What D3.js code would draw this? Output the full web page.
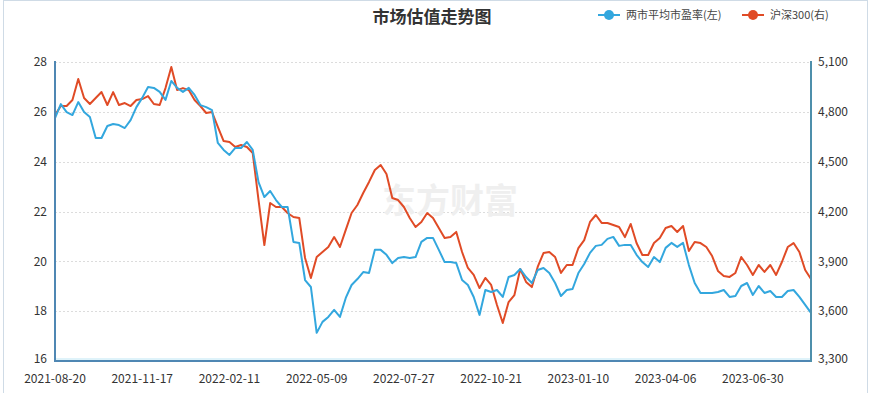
<!DOCTYPE html>
<html>
<head>
<meta charset="utf-8">
<script src="https://cdn.jsdelivr.net/npm/d3@7"></script>
<style>
  body { margin: 0; background: #fff; }
  svg { display: block; font-family: "Noto Sans CJK SC", "Noto Sans", sans-serif; }
</style>
</head>
<body>
<div id="chart"></div>
<script>
// tick labels on the category axis (one every 15 samples)
const tickLabels = ["2021-08-20","2021-11-17","2022-02-11","2022-05-09","2022-07-27",
                    "2022-10-21","2023-01-10","2023-04-06","2023-06-30"];
const tickStep = 15;

// 两市平均市盈率 (left axis)
const peValues = [
  25.75,26.31,25.99,25.87,26.39,25.99,25.79,24.95,24.95,25.43,
  25.51,25.47,25.35,25.67,26.19,26.56,27.00,26.96,26.80,26.48,
  27.24,26.96,26.80,26.96,26.68,26.27,26.19,26.07,24.75,24.47,
  24.27,24.55,24.55,24.79,24.47,23.18,22.58,22.82,22.46,22.18,
  22.18,20.78,20.74,19.25,18.97,17.13,17.57,17.77,18.05,17.77,
  18.53,19.05,19.29,19.57,19.53,20.46,20.46,20.26,19.93,20.13,
  20.17,20.13,20.17,20.78,20.94,20.94,20.46,19.97,19.97,19.93,
  19.25,19.05,18.57,17.85,18.85,18.77,18.85,18.57,19.37,19.45,
  19.69,19.37,19.13,19.65,19.73,19.53,19.13,18.61,18.85,18.89,
  19.53,19.89,20.34,20.62,20.66,20.90,20.98,20.62,20.66,20.66,
  20.26,19.97,19.77,20.17,19.97,20.54,20.74,20.58,20.74,19.85,
  19.13,18.73,18.73,18.73,18.77,18.85,18.57,18.61,19.01,19.13,
  18.65,19.01,18.73,18.81,18.57,18.57,18.81,18.85,18.57,18.25,
  17.93
];

// 沪深300 (right axis)
const hs300Values = [
  4781,4835,4835,4871,4998,4883,4847,4883,4919,4841,
  4919,4841,4853,4835,4871,4877,4895,4847,4841,4943,
  5070,4931,4943,4931,4871,4835,4793,4799,4709,4624,
  4618,4588,4600,4588,4552,4269,3998,4251,4227,4227,
  4191,4167,4161,3920,3800,3926,3956,3986,4046,3986,
  4089,4191,4239,4311,4378,4450,4480,4426,4281,4269,
  4227,4161,4107,4137,4191,4161,4101,4040,4046,4077,
  3956,3860,3818,3739,3800,3758,3637,3529,3655,3697,
  3854,3776,3745,3866,3950,3956,3926,3830,3878,3878,
  3980,4028,4137,4179,4131,4131,4119,4107,4046,4125,
  4010,3938,3938,4010,4040,4101,4113,4077,4113,3962,
  4016,4010,3986,3932,3842,3812,3806,3830,3926,3878,
  3818,3878,3836,3878,3818,3896,3986,4010,3956,3848,
  3794
];

const leftTicks = [16, 18, 20, 22, 24, 26, 28];
const rightTicks = [3300, 3600, 3900, 4200, 4500, 4800, 5100];

const seriesNames = ["两市平均市盈率(左)", "沪深300(右)"];
const colors = ["#33a7de", "#e04b26"];

const width = 871, height = 393;
const margin = { top: 62, right: 60, bottom: 32, left: 55 };
const x0 = margin.left, x1 = width - margin.right;
const y0 = height - margin.bottom, y1 = margin.top;

const svg = d3.select("#chart").append("svg")
  .attr("width", width).attr("height", height);

// outer frame
svg.append("rect")
  .attr("x", 3.5).attr("y", 0.5).attr("width", 864).attr("height", 400)
  .attr("fill", "none").attr("stroke", "#cfdbe6");

const x = d3.scaleLinear().domain([0, peValues.length - 1]).range([x0, x1]);
const yL = d3.scaleLinear().domain([16, 28]).range([y0, y1]);
const yR = d3.scaleLinear().domain([3300, 5100]).range([y0, y1]);

// grid
svg.append("g").selectAll("line").data(leftTicks.slice(1)).join("line")
  .attr("x1", x0).attr("x2", x1)
  .attr("y1", d => Math.round(yL(d)) + 0.5).attr("y2", d => Math.round(yL(d)) + 0.5)
  .attr("stroke", "#dcdcdc").attr("stroke-dasharray", "2,2");

// watermark
svg.append("text")
  .attr("x", 450).attr("y", 213).attr("text-anchor", "middle")
  .style("font-size", "34px").style("font-weight", "bold")
  .attr("fill", "#efefef").text("东方财富");

// lines
const lineL = d3.line().x((d, i) => x(i)).y(d => yL(d));
const lineR = d3.line().x((d, i) => x(i)).y(d => yR(d));

svg.append("path").datum(hs300Values).attr("d", lineR)
  .attr("fill", "none").attr("stroke", colors[1]).attr("stroke-width", 2)
  .attr("stroke-linejoin", "round");
svg.append("path").datum(peValues).attr("d", lineL)
  .attr("fill", "none").attr("stroke", colors[0]).attr("stroke-width", 2)
  .attr("stroke-linejoin", "round");

// axes
const axisColor = "#4f87b3";
svg.append("line").attr("x1", x0 + 1).attr("x2", x1).attr("y1", y0 - 2).attr("y2", y0 - 2)
  .attr("stroke", "#dff3fa").attr("stroke-width", 2);
svg.append("line").attr("x1", x0).attr("x2", x1 + 1).attr("y1", y0).attr("y2", y0)
  .attr("stroke", axisColor).attr("stroke-width", 2);
svg.append("line").attr("x1", x0).attr("x2", x0).attr("y1", y1 - 1).attr("y2", y0 + 1)
  .attr("stroke", axisColor).attr("stroke-width", 2);
svg.append("line").attr("x1", x1).attr("x2", x1).attr("y1", y1 - 1).attr("y2", y0 + 1)
  .attr("stroke", "#4e8fab").attr("stroke-width", 2);

const fs = "12px", tc = "#333";
svg.append("g").selectAll("text").data(leftTicks).join("text")
  .attr("x", x0 - 8).attr("y", d => yL(d) - (d === 16 ? 2 : 0)).attr("dy", "0.35em")
  .attr("text-anchor", "end").style("font-size", fs).attr("fill", tc)
  .text(d => d);

svg.append("g").selectAll("text").data(rightTicks).join("text")
  .attr("x", x1 + 7).attr("y", d => yR(d) - (d === 3300 ? 2 : 0)).attr("dy", "0.35em")
  .attr("text-anchor", "start").style("font-size", fs).attr("fill", tc)
  .text(d => d3.format(",")(d));

svg.append("g").selectAll("text").data(tickLabels).join("text")
  .attr("x", (d, i) => x(i * tickStep)).attr("y", y0 + 22)
  .attr("text-anchor", "middle").style("font-size", fs).attr("fill", tc)
  .text(d => d);

// title
svg.append("text").attr("x", 432).attr("y", 23).attr("text-anchor", "middle")
  .style("font-size", "17px").style("font-weight", "bold").attr("fill", "#333")
  .text("市场估值走势图");

// legend
const legX = [598, 742];
seriesNames.forEach((name, i) => {
  const g = svg.append("g").attr("transform", `translate(${legX[i]},15)`);
  g.append("line").attr("x1", 0).attr("x2", 22).attr("y1", 0).attr("y2", 0)
    .attr("stroke", colors[i]).attr("stroke-width", 2);
  g.append("circle").attr("cx", 11).attr("cy", 0).attr("r", 5).attr("fill", colors[i]);
  g.append("text").attr("x", 28).attr("y", 0).attr("dy", "0.35em")
    .style("font-size", "11px").attr("fill", "#444").text(name);
});
</script>
</body>
</html>
